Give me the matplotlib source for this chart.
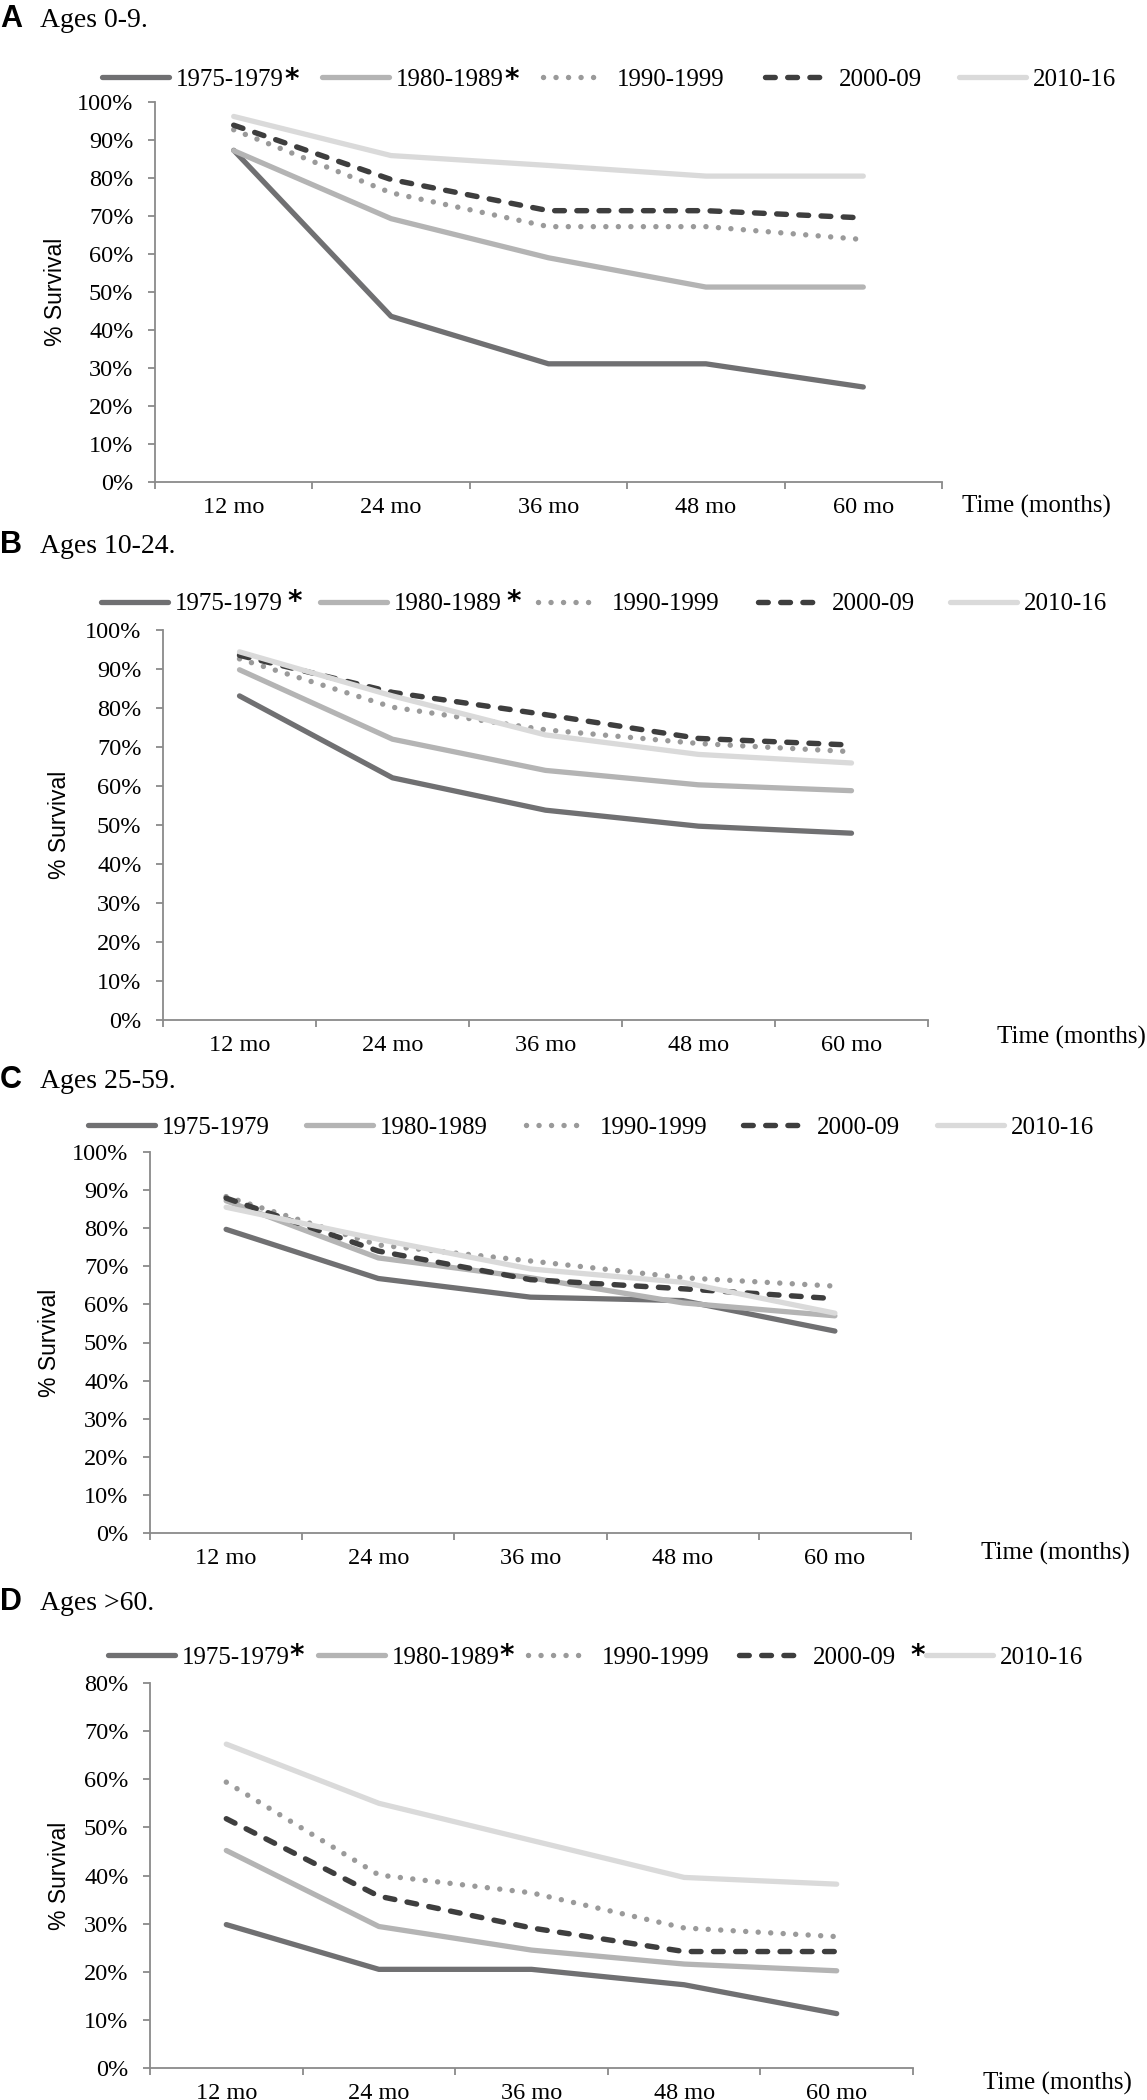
import matplotlib
matplotlib.use('Agg')
import matplotlib.pyplot as plt
import numpy as np
from matplotlib.lines import Line2D
from matplotlib.ticker import FuncFormatter

# x categories and series names
months = ['12 mo', '24 mo', '36 mo', '48 mo', '60 mo']
periods = ['1975-1979', '1980-1989', '1990-1999', '2000-09', '2010-16']

# % survival, one row per period
surv_0_9 = [
    [87.3, 43.6, 31.1, 31.1, 25.0],
    [87.2, 69.3, 59.0, 51.3, 51.3],
    [92.7, 76.1, 67.2, 67.2, 63.8],
    [93.9, 79.6, 71.4, 71.4, 69.5],
    [96.2, 85.9, 83.3, 80.5, 80.5],
]
surv_10_24 = [
    [83.1, 62.1, 53.8, 49.7, 47.9],
    [89.8, 72.0, 64.0, 60.3, 58.8],
    [92.6, 80.2, 74.4, 70.9, 68.8],
    [93.5, 84.0, 78.3, 72.2, 70.5],
    [94.4, 83.1, 73.1, 68.1, 65.9],
]
surv_25_59 = [
    [79.7, 66.8, 61.9, 61.0, 53.0],
    [87.2, 72.2, 67.0, 60.4, 57.0],
    [88.3, 75.6, 71.4, 67.0, 64.8],
    [87.9, 74.0, 66.5, 64.1, 61.5],
    [85.5, 77.1, 69.3, 65.8, 57.7],
]
surv_60 = [
    [29.8, 20.5, 20.5, 17.3, 11.3],
    [45.2, 29.4, 24.5, 21.6, 20.2],
    [59.4, 40.1, 36.4, 29.1, 27.3],
    [51.8, 35.7, 29.1, 24.2, 24.2],
    [67.3, 55.0, 47.3, 39.6, 38.2],
]

W, H = 1147, 2100
plt.rcParams['font.family'] = ['Liberation Serif', 'DejaVu Serif']
plt.rcParams['font.size'] = 17.5

fig = plt.figure(figsize=(W / 100, H / 100), dpi=100)


def fx(x):
    return x / W


def fy(y):
    return 1 - y / H


styles = [
    dict(color='#707072', lw=3.8, ls='-', leg_len=67),
    dict(color='#b4b4b4', lw=3.8, ls='-', leg_len=67),
    dict(color='#9a9a9a', lw=3.9, ls=(0, (0.01, 2.3)), leg_len=60),
    dict(color='#3e3e3e', lw=3.9, ls=(0, (1.8, 2.3)), leg_len=56),
    dict(color='#dadada', lw=3.8, ls='-', leg_len=67),
]


def line_kw(k):
    s = styles[k]
    return dict(color=s['color'], linewidth=s['lw'], linestyle=s['ls'],
                solid_capstyle='round', solid_joinstyle='round',
                dash_capstyle='round', dash_joinstyle='round')


# layout in pixels of the reference image
panels = [
    dict(letter='A', title='Ages 0-9.', data=surv_0_9, ymax=100,
         box=(155, 102, 942, 482), title_y=27, leg_y=77,
         leg_x=[102, 322, 543, 765, 959], ylab_x=55, time_off=(20, -24),
         stars={0: ('sup', 1), 1: ('sup', 1)}),
    dict(letter='B', title='Ages 10-24.', data=surv_10_24, ymax=100,
         box=(163, 630, 928, 1020), title_y=553, leg_y=602,
         leg_x=[101, 320, 538, 758, 950], ylab_x=60, time_off=(69, -17),
         stars={0: ('mid', 5), 1: ('mid', 5)}),
    dict(letter='C', title='Ages 25-59.', data=surv_25_59, ymax=100,
         box=(150, 1152, 911, 1533), title_y=1088, leg_y=1125,
         leg_x=[88, 306, 526, 743, 937], ylab_x=50, time_off=(70, -20),
         stars={}),
    dict(letter='D', title='Ages >60.', data=surv_60, ymax=80,
         box=(150, 1683, 913, 2068), title_y=1610, leg_y=1655,
         leg_x=[108, 318, 528, 739, 926], ylab_x=60, time_off=(70, -15),
         stars={0: ('mid', 0), 1: ('mid', 0), 3: ('mid', 14)}),
]

axis_grey = '#8a8a8a'

for cfg in panels:
    l, t, r, b = cfg['box']
    ax = fig.add_axes([fx(l), fy(b), (r - l) / W, (b - t) / H])
    for k, vals in enumerate(cfg['data']):
        ax.plot(range(len(months)), vals, clip_on=False, **line_kw(k))

    ax.set_xlim(-0.5, len(months) - 0.5)
    ax.set_ylim(0, cfg['ymax'])
    ax.set_yticks(range(0, cfg['ymax'] + 1, 10))
    ax.yaxis.set_major_formatter(FuncFormatter(lambda v, p: '%d%%' % round(v)))
    ax.set_xticks(np.arange(-0.5, len(months), 1.0))
    ax.set_xticklabels([])
    ax.set_xticks(range(len(months)), minor=True)
    ax.set_xticklabels(months, minor=True)
    ax.tick_params(axis='x', which='minor', length=0, pad=11, labelsize=17.5)
    ax.tick_params(axis='both', which='major', length=5, width=1.3,
                   color=axis_grey, direction='out')
    ax.tick_params(axis='y', pad=10.5, labelsize=17.5)
    for s in ['top', 'right']:
        ax.spines[s].set_visible(False)
    for s in ['left', 'bottom']:
        ax.spines[s].set_color(axis_grey)
        ax.spines[s].set_linewidth(1.3)

    ax.annotate('Time (months)', xy=(1, 0), xycoords='axes fraction',
                xytext=cfg['time_off'], textcoords='offset pixels',
                ha='left', va='center', fontsize=18)

    # panel title
    fig.text(fx(0), fy(cfg['title_y']), cfg['letter'], family='Liberation Sans',
             weight='bold', fontsize=22, va='baseline', ha='left')
    fig.text(fx(40), fy(cfg['title_y']), cfg['title'], fontsize=20,
             va='baseline', ha='left')

    # y label
    fig.text(fx(cfg['ylab_x']), fy((t + b) / 2), '% Survival', rotation=90,
             family='Liberation Sans', fontsize=16.5, ha='center', va='center')

    # legend row
    y = cfg['leg_y']
    for k, x0 in enumerate(cfg['leg_x']):
        x1 = x0 + styles[k]['leg_len']
        fig.add_artist(Line2D([fx(x0), fx(x1)], [fy(y), fy(y)],
                              transform=fig.transFigure, **line_kw(k)))
        txt = fig.text(fx(x0 + 74), fy(y + 8.5), periods[k], fontsize=18,
                       va='baseline', ha='left')
        if k in cfg['stars']:
            mode, gap = cfg['stars'][k]
            if mode == 'sup':
                ax.annotate('*', xy=(1, 1), xycoords=txt, xytext=(gap, 2),
                            textcoords='offset pixels', ha='left', va='top',
                            family='DejaVu Sans', weight='bold', fontsize=20,
                            annotation_clip=False)
            else:
                ax.annotate('*', xy=(1, 0.5), xycoords=txt, xytext=(gap, 2),
                            textcoords='offset pixels', ha='left', va='center',
                            family='DejaVu Sans', weight='bold', fontsize=20,
                            annotation_clip=False)

fig.savefig('out.png', dpi=100)
